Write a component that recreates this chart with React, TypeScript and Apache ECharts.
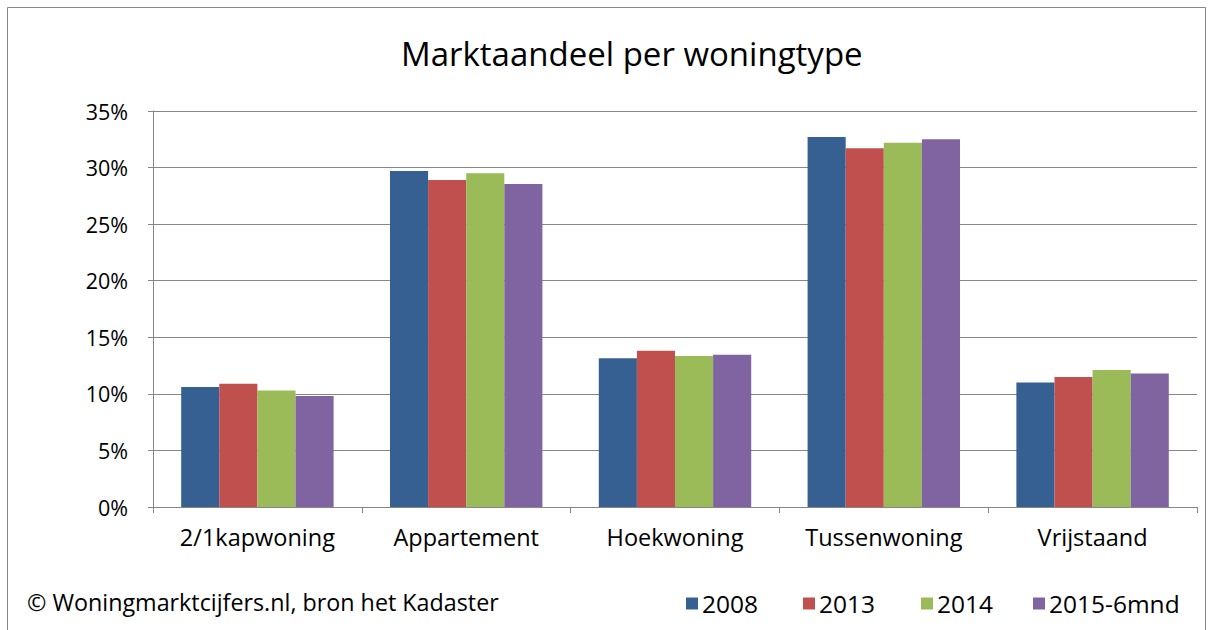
import React, { useEffect, useRef } from "react";
import * as echarts from "echarts";

const categories = ["2/1kapwoning", "Appartement", "Hoekwoning", "Tussenwoning", "Vrijstaand"];
const seriesNames = ["2008", "2013", "2014", "2015-6mnd"];
const values2008 = [10.6, 29.7, 13.15, 32.7, 11.0];
const values2013 = [10.9, 28.9, 13.8, 31.7, 11.5];
const values2014 = [10.3, 29.5, 13.35, 32.2, 12.1];
const values2015 = [9.8, 28.55, 13.45, 32.5, 11.8];
const colors = ["#376092", "#C0504D", "#9BBB59", "#8064A2"];
const legendLefts = [681, 798, 916, 1028];

const FONT = "Open Sans";

export default function App() {
  const ref = useRef<HTMLDivElement>(null);
  useEffect(() => {
    if (!ref.current) return;
    const chart = echarts.init(ref.current, null, { renderer: "svg" });
    const allValues = [values2008, values2013, values2014, values2015];
    chart.setOption({
      animation: false,
      backgroundColor: "#ffffff",
      textStyle: { fontFamily: FONT },
      title: {
        text: "Marktaandeel per woningtype",
        left: 396,
        top: 32,
        textStyle: { fontFamily: FONT, fontSize: 33, fontWeight: "normal", color: "#000" },
      },
      legend: seriesNames.map((n, i) => ({
        data: [n],
        left: legendLefts[i],
        top: 586,
        itemWidth: 12,
        itemHeight: 12,
        itemGap: 5,
        icon: "rect",
        textStyle: { fontFamily: FONT, fontSize: 24.5, color: "#000", padding: [0, 0, 0, -1] },
      })),
      grid: { left: 153, top: 111, width: 1044, height: 396, containLabel: false },
      xAxis: {
        type: "category",
        data: categories,
        axisLine: { lineStyle: { color: "#868686", width: 1 } },
        axisTick: { show: true, length: 6, lineStyle: { color: "#868686" } },
        axisLabel: { fontFamily: FONT, fontSize: 23.5, color: "#000", margin: 18 },
      },
      yAxis: {
        type: "value",
        min: 0,
        max: 35,
        interval: 5,
        axisLine: { show: true, lineStyle: { color: "#868686", width: 1 } },
        axisTick: { show: true, length: 5, lineStyle: { color: "#868686" } },
        axisLabel: { formatter: "{value}%", fontFamily: FONT, fontSize: 21.5, color: "#000", margin: 25 },
        splitLine: { lineStyle: { color: "#868686", width: 1 } },
      },
      series: seriesNames.map((n, i) => ({
        name: n,
        type: "bar",
        data: allValues[i],
        barGap: "0%",
        barCategoryGap: "27%",
        itemStyle: { color: colors[i] },
      })),
      graphic: [
        {
          type: "rect",
          shape: { x: 7.5, y: 7.5, width: 1198, height: 640 },
          style: { fill: "none", stroke: "#868686", lineWidth: 1 },
          silent: true,
        },
        {
          type: "text",
          left: 27,
          top: 590,
          style: {
            text: "© Woningmarktcijfers.nl, bron het Kadaster",
            fontFamily: FONT,
            fontSize: 23.3,
            fill: "#000",
          },
        },
      ],
    });
    return () => chart.dispose();
  }, []);
  return (
    <div
      ref={ref}
      style={{ position: "fixed", left: 0, top: 0, width: 1212, height: 630 }}
    />
  );
}
